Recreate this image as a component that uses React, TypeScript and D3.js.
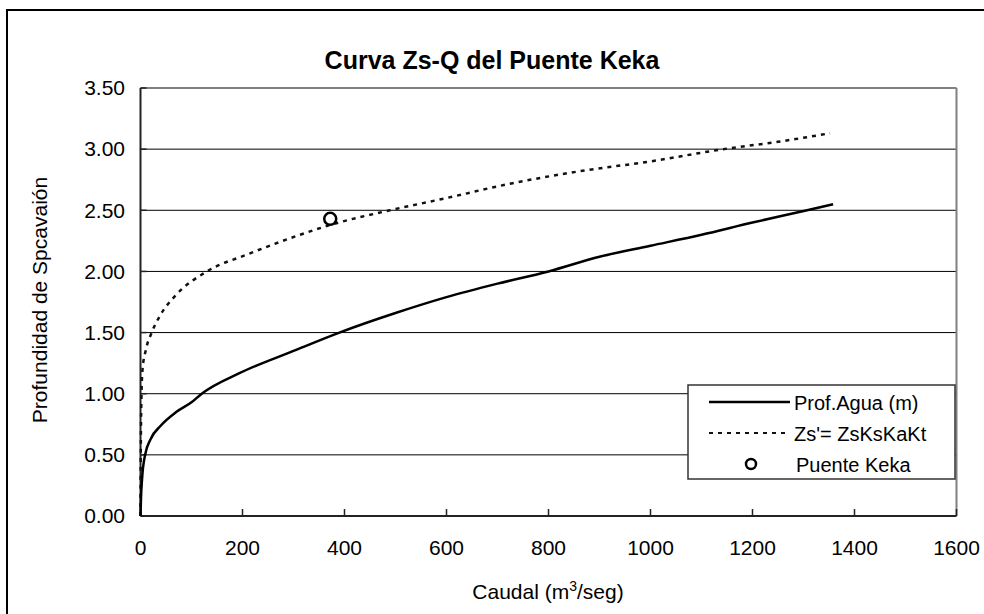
import React from "react";
import * as d3 from "d3";

const aguaQ = [0, 1, 3, 9, 20, 40, 70, 100, 120, 195, 300, 390, 500, 600, 700, 800, 900, 1000, 1100, 1200, 1307, 1358];
const aguaZ = [0, 0.15, 0.3, 0.5, 0.63, 0.74, 0.85, 0.93, 1.0, 1.17, 1.35, 1.5, 1.66, 1.79, 1.9, 2.0, 2.12, 2.21, 2.3, 2.4, 2.5, 2.55];
const zsQ = [0, 0.5, 2, 4, 10, 22, 40, 68, 130, 210, 313, 372, 489, 600, 705, 862, 1000, 1143, 1250, 1352];
const zsZ = [0, 0.5, 1.0, 1.2, 1.35, 1.5, 1.65, 1.8, 2.0, 2.14, 2.3, 2.38, 2.5, 2.6, 2.7, 2.82, 2.9, 3.0, 3.06, 3.13];
const puenteQ = [372];
const puenteZ = [2.43];
const xTicks = [0, 200, 400, 600, 800, 1000, 1200, 1400, 1600];
const yTicks = [0, 0.5, 1.0, 1.5, 2.0, 2.5, 3.0, 3.5];
const legendLabels = ["Prof.Agua (m)", "Zs'= ZsKsKaKt", "Puente Keka"];

const FONT = "'Liberation Sans', Arial, sans-serif";

export default function App() {
  const x = d3.scaleLinear().domain([0, 1600]).range([140.5, 956.5]);
  const y = d3.scaleLinear().domain([0, 3.5]).range([516, 88]);
  const mk = d3
    .line<[number, number]>()
    .x((d) => x(d[0]))
    .y((d) => y(d[1]))
    .curve(d3.curveMonotoneX);
  const aguaPath = mk(aguaQ.map((q, i) => [q, aguaZ[i]] as [number, number]));
  const zsPath = mk(zsQ.map((q, i) => [q, zsZ[i]] as [number, number]));

  const [x0, x1] = x.range();
  const [yb, yt] = y.range();

  return (
    <svg
      width={984}
      height={614}
      style={{ position: "absolute", left: 0, top: 0, background: "#fff" }}
      fontFamily={FONT}
    >
      <rect x={0} y={0} width={984} height={614} fill="#fff" />
      <rect x={7} y={10} width={1000} height={700} fill="none" stroke="#000" strokeWidth={2} />
      <text x={492} y={69} textAnchor="middle" fontSize={25} fontWeight="bold">
        Curva Zs-Q del Puente Keka
      </text>

      {yTicks.filter((t) => t > 0 && t < 3.5).map((t) => (
        <line key={t} x1={x0} x2={x1} y1={y(t)} y2={y(t)} stroke="#000" strokeWidth={1} />
      ))}
      <line x1={x0} x2={x1} y1={yt} y2={yt} stroke="#808080" strokeWidth={2} />
      <line x1={x1} x2={x1} y1={yt} y2={yb} stroke="#808080" strokeWidth={2} />

      <line x1={x0} x2={x0} y1={yt} y2={yb} stroke="#222" strokeWidth={2} />
      <line x1={x0} x2={x1} y1={yb} y2={yb} stroke="#222" strokeWidth={2} />
      {yTicks.map((t) => (
        <g key={t}>
          <line x1={x0} x2={x0 + 6} y1={y(t)} y2={y(t)} stroke="#222" strokeWidth={1.5} />
          <text x={125} y={y(t)} dy="0.35em" textAnchor="end" fontSize={21}>
            {t.toFixed(2)}
          </text>
        </g>
      ))}
      {xTicks.map((t) => (
        <g key={t}>
          <line x1={x(t)} x2={x(t)} y1={yb} y2={yb - 7} stroke="#222" strokeWidth={1.5} />
          <text x={x(t)} y={555} textAnchor="middle" fontSize={21}>
            {t}
          </text>
        </g>
      ))}

      <text x={548} y={599} textAnchor="middle" fontSize={21}>
        Caudal (m<tspan dy={-8} fontSize={14}>3</tspan>
        <tspan dy={8}>/seg)</tspan>
      </text>
      <text transform={`translate(47,300) rotate(-90)`} textAnchor="middle" fontSize={21}>
        Profundidad de Spcavaión
      </text>

      <path d={zsPath ?? ""} fill="none" stroke="#111" strokeWidth={2.5} strokeDasharray="4,5" />
      <path d={aguaPath ?? ""} fill="none" stroke="#000" strokeWidth={2.5} />
      {puenteQ.map((q, i) => (
        <circle key={i} cx={x(q)} cy={y(puenteZ[i])} r={6} fill="#fff" stroke="#000" strokeWidth={2.5} />
      ))}

      <rect x={688} y={385} width={267} height={94} fill="#fff" stroke="#333" strokeWidth={1.5} />
      <line x1={709} x2={790} y1={402} y2={402} stroke="#000" strokeWidth={2.5} />
      <line x1={709} x2={790} y1={433} y2={433} stroke="#111" strokeWidth={2} strokeDasharray="4,5" />
      <circle cx={751} cy={464} r={5} fill="#fff" stroke="#000" strokeWidth={2.5} />
      {legendLabels.map((l, i) => (
        <text key={l} x={i === 2 ? 796 : 794} y={403 + i * 31} dy="0.35em" fontSize={20}>
          {l}
        </text>
      ))}
    </svg>
  );
}
